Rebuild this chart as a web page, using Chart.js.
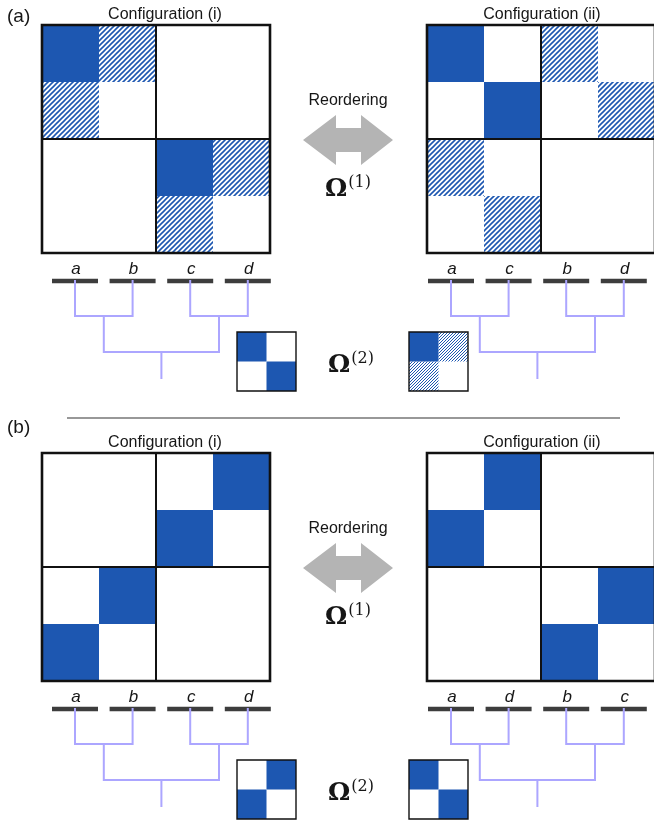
<!DOCTYPE html>
<html>
<head>
<meta charset="utf-8">
<script src="https://cdn.jsdelivr.net/npm/chart.js@4.4.1/dist/chart.umd.min.js"></script>
<style>
  body { margin: 0; background: #fff; }
  canvas { display: block; }
</style>
</head>
<body>
<canvas id="figure" width="654" height="822"></canvas>
<script>
// cell codes: 0 = empty, 1 = solid block, 2 = hatched block
const matrixA1 = [[1, 2, 0, 0], [2, 0, 0, 0], [0, 0, 1, 2], [0, 0, 2, 0]];
const matrixA2 = [[1, 0, 2, 0], [0, 1, 0, 2], [2, 0, 0, 0], [0, 2, 0, 0]];
const matrixB1 = [[0, 0, 0, 1], [0, 0, 1, 0], [0, 1, 0, 0], [1, 0, 0, 0]];
const matrixB2 = [[0, 1, 0, 0], [1, 0, 0, 0], [0, 0, 0, 1], [0, 0, 1, 0]];
const blockA1 = [[1, 0], [0, 1]];
const blockA2 = [[1, 2], [2, 0]];
const blockB1 = [[0, 1], [1, 0]];
const blockB2 = [[1, 0], [0, 1]];
const leavesA1 = ['a', 'b', 'c', 'd'];
const leavesA2 = ['a', 'c', 'b', 'd'];
const leavesB1 = ['a', 'b', 'c', 'd'];
const leavesB2 = ['a', 'd', 'b', 'c'];
const titles = ['Configuration (i)', 'Configuration (ii)'];
const panelNames = ['(a)', '(b)'];
const arrowText = 'Reordering';

const BLUE = '#1d57b1';
const LAVENDER = '#aca6ff';
const GREY = '#b4b4b4';
const SANS = '"Liberation Sans", Arial, sans-serif';
const SERIF = '"DejaVu Serif", serif';

function makeHatch(size, width) {
    const c = document.createElement('canvas');
    c.width = size;
    c.height = size;
    const g = c.getContext('2d');
    g.fillStyle = '#fff';
    g.fillRect(0, 0, size, size);
    g.strokeStyle = BLUE;
    g.lineWidth = width;
    g.beginPath();
    g.moveTo(0, size); g.lineTo(size, 0);
    g.moveTo(-size / 2, size / 2); g.lineTo(size / 2, -size / 2);
    g.moveTo(size / 2, size * 1.5); g.lineTo(size * 1.5, size / 2);
    g.stroke();
    return g.createPattern(c, 'repeat');
}
const bigHatch = makeHatch(5, 1.6);
const smallHatch = makeHatch(3, 1.0);

const panels = [
    { top: 25, mats: [matrixA1, matrixA2], blocks: [blockA1, blockA2], leaves: [leavesA1, leavesA2] },
    { top: 453, mats: [matrixB1, matrixB2], blocks: [blockB1, blockB2], leaves: [leavesB1, leavesB2] }
];
const matLeft = [42, 427];
const matSize = 228;
const leafStart = [75, 451];
const leafStep = 57.6;
const blockLeft = [237, 409];
const blockSize = 59;
const centerX = 348;

const datasets = [];
const texts = [];

function poly(points, opts) {
    datasets.push(Object.assign({
        data: points.map(p => ({ x: p[0], y: p[1] })),
        showLine: true,
        pointRadius: 0,
        fill: false,
        borderWidth: 0,
        borderColor: 'rgba(0,0,0,0)',
        borderJoinStyle: 'miter',
        borderCapStyle: 'butt'
    }, opts));
}

function rectPts(x, y, w, h) {
    return [[x, y], [x + w, y], [x + w, y + h], [x, y + h], [x, y]];
}

function addMatrix(m, x0, y0, size, hatch, outerW, innerW) {
    const n = m.length;
    const c = size / n;
    m.forEach((row, r) => row.forEach((v, k) => {
        if (!v) return;
        poly(rectPts(x0 + k * c, y0 + r * c, c, c),
            { fill: 'shape', backgroundColor: v === 1 ? BLUE : hatch, order: 5 });
    }));
    if (innerW) {
        poly([[x0 + size / 2, y0], [x0 + size / 2, y0 + size]], { borderColor: '#111', borderWidth: innerW, order: 4 });
        poly([[x0, y0 + size / 2], [x0 + size, y0 + size / 2]], { borderColor: '#111', borderWidth: innerW, order: 4 });
    }
    poly(rectPts(x0, y0, size, size), { borderColor: '#111', borderWidth: outerW, borderCapStyle: 'square', order: 3 });
}

function addTree(labels, x0, top) {
    const xs = labels.map((_, i) => x0 + i * leafStep);
    const yBar = top + 256, yLeaf = top + 291, yMid = top + 327, yRoot = top + 354;
    xs.forEach((x, i) => {
        poly([[x - 23, yBar], [x + 23, yBar]], { borderColor: '#3d3d3d', borderWidth: 4.5, order: 2 });
        texts.push({ text: labels[i], x: x + 1, y: top + 249, font: 'italic 17px ' + SANS, align: 'center' });
    });
    const mids = [];
    for (let i = 0; i < xs.length; i += 2) {
        poly([[xs[i], yBar - 1], [xs[i], yLeaf], [xs[i + 1], yLeaf], [xs[i + 1], yBar - 1]],
            { borderColor: LAVENDER, borderWidth: 2, order: 1 });
        mids.push((xs[i] + xs[i + 1]) / 2);
    }
    poly([[mids[0], yLeaf], [mids[0], yMid], [mids[1], yMid], [mids[1], yLeaf]],
        { borderColor: LAVENDER, borderWidth: 2, order: 1 });
    const root = (mids[0] + mids[1]) / 2;
    poly([[root, yMid], [root, yRoot]], { borderColor: LAVENDER, borderWidth: 2, order: 1 });
}

panels.forEach((p, pi) => {
    const T = p.top;
    p.mats.forEach((m, s) => {
        addMatrix(m, matLeft[s], T, matSize, bigHatch, 2.6, 2);
        addMatrix(p.blocks[s], blockLeft[s], T + 307, blockSize, smallHatch, 1.4, 0);
        addTree(p.leaves[s], leafStart[s], T);
    });
    // double-headed reordering arrow
    const cy = T + 115;
    const arrow = [[-45, 0], [-12, -25], [-12, -12], [13, -12], [13, -25], [45, 0],
                   [13, 25], [13, 12], [-12, 12], [-12, 25], [-45, 0]];
    poly(arrow.map(a => [centerX + a[0], cy + a[1]]), { fill: 'shape', backgroundColor: GREY, order: 5 });

    texts.push({ text: panelNames[pi], x: 7, y: pi === 0 ? 22 : 433, font: '19px ' + SANS, align: 'left' });
    texts.push({ text: titles[0], x: 165, y: T - 6, font: '16px ' + SANS, align: 'center' });
    texts.push({ text: titles[1], x: 542, y: T - 6, font: '16px ' + SANS, align: 'center' });
    texts.push({ text: arrowText, x: centerX, y: T + 80, font: '16px ' + SANS, align: 'center' });
    texts.push({ omega: '(1)', x: 325, y: T + 171 });
    texts.push({ omega: '(2)', x: 328, y: T + 347 });
});

// separator between the two panels
poly([[67, 418], [620, 418]], { borderColor: '#333', borderWidth: 1.2, order: 0 });

const textPlugin = {
    id: 'figureText',
    afterDraw(chart) {
        const ctx = chart.ctx;
        const sx = chart.scales.x, sy = chart.scales.y;
        ctx.save();
        ctx.fillStyle = '#161616';
        ctx.textBaseline = 'alphabetic';
        texts.forEach(t => {
            const x = sx.getPixelForValue(t.x), y = sy.getPixelForValue(t.y);
            if (t.omega) {
                ctx.textAlign = 'left';
                ctx.font = 'bold 25px ' + SERIF;
                ctx.fillText('\u03A9', x, y);
                const w = ctx.measureText('\u03A9').width;
                ctx.font = '16px ' + SERIF;
                ctx.fillText(t.omega, x + w + 1, y - 9);
            } else {
                ctx.textAlign = t.align;
                ctx.font = t.font;
                ctx.fillText(t.text, x, y);
            }
        });
        ctx.restore();
    }
};

new Chart(document.getElementById('figure'), {
    type: 'scatter',
    data: { datasets: datasets },
    options: {
        responsive: false,
        animation: false,
        events: [],
        layout: { padding: 0 },
        elements: { line: { tension: 0 } },
        scales: {
            x: { type: 'linear', min: 0, max: 654, display: false },
            y: { type: 'linear', min: 0, max: 822, reverse: true, display: false }
        },
        plugins: { legend: { display: false }, tooltip: { enabled: false } }
    },
    plugins: [textPlugin]
});
</script>
</body>
</html>
